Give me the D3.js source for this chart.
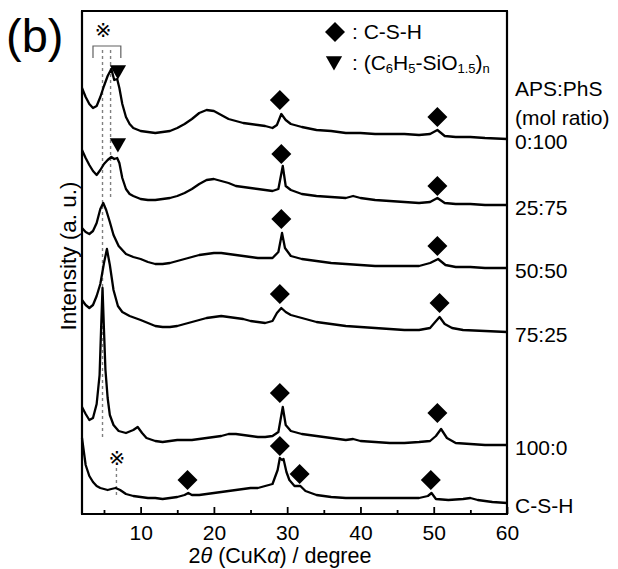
<!DOCTYPE html>
<html>
<head>
<meta charset="utf-8">
<script src="https://cdn.jsdelivr.net/npm/d3@7"></script>
<style>
  body { margin: 0; background: #fff; }
  svg text { font-family: "Liberation Sans", Arial, sans-serif; fill: #000; }
</style>
</head>
<body>
<div id="chart"></div>
<script>
// 2theta (degree) vs. intensity (a.u., traces already stacked)
const aps0_100 = [[2,426],[2.5,417],[3,410],[3.5,406],[4,408],[4.5,417],[5,428],[5.5,438],[6,445],[6.4,434],[6.8,435],[7.1,426],[7.5,410],[8,397],[8.5,390],[9,386],[10,383],[11,382],[12,381],[13,382],[14,383],[15,386],[16,390],[17,395],[18,401],[19,404],[20,403],[21,399],[22,395],[23,393],[24,391],[25,390],[26,389],[27,388],[28,386],[28.6,389],[29.2,400],[29.8,394],[30.5,390],[32,387],[34,384],[36,383],[38,381],[40,381],[42,380],[44,380],[46,380],[48,379],[49.5,380],[50.5,384],[51.5,378],[53,377],[55,377],[57,376],[60,375]];
const aps25_75 = [[2,364],[2.5,356],[3,349],[3.5,343],[4,339],[4.5,344],[5,350],[5.5,354],[6,357],[6.4,355],[6.8,356],[7.1,351],[7.5,336],[8,325],[8.5,320],[9,318],[10,315],[11,314],[12,314],[13,315],[14,316],[15,318],[16,321],[17,325],[18,330],[19,334],[20,335],[21,333],[22,331],[23,328],[24,327],[25,326],[26,325],[27,324],[28,323],[28.8,325],[29.4,348],[29.8,328],[30.5,324],[32,320],[34,318],[36,317],[38,316],[39,318],[40,316],[42,314],[44,313],[46,312],[48,311],[49.5,312],[50.5,316],[51.5,311],[53,310],[55,310],[57,309],[60,309]];
const aps50_50 = [[2,286],[2.5,282],[3,280],[3.5,283],[4,291],[4.5,305],[4.9,311],[5.3,304],[5.8,292],[6.3,279],[7,268],[8,260],[9,257],[10,255],[11,252],[12,250],[13,250],[14,251],[15,253],[16,255],[17,257],[18,259],[19,260],[20,261],[21,261],[22,260],[23,259],[24,258],[25,257],[26,256],[27,256],[28,256],[28.8,262],[29.3,281],[29.7,266],[30.5,258],[32,255],[34,253],[36,251],[38,250],[40,249],[42,248],[44,248],[46,248],[48,248],[49.5,251],[50.6,255],[51.6,249],[53,247],[55,247],[57,246],[60,246]];
const aps75_25 = [[2,214],[2.5,209],[3,206],[3.5,209],[4,218],[4.5,230],[5,251],[5.4,265],[5.8,249],[6.3,224],[6.9,208],[7.5,202],[8.5,198],[10,194],[11,191],[12,188],[13,187],[14,187],[15,188],[16,190],[17,192],[18,194],[19,196],[20,197],[21,198],[22,197],[23,196],[24,195],[25,193],[26,192],[27,191],[28,193],[28.6,201],[29.2,206],[29.8,202],[30.5,199],[32,196],[34,192],[36,190],[38,188],[40,187],[42,186],[44,185],[46,184],[48,184],[49.5,186],[50.2,192],[50.8,197],[51.5,190],[52.5,186],[54,184],[57,183],[60,182]];
const aps100_0 = [[2,107],[2.5,100],[3,94],[3.5,96],[4,110],[4.4,139],[4.6,184],[4.8,226],[5,184],[5.2,144],[5.5,116],[5.8,99],[6.3,89],[7,83],[8,81],[9,84],[9.6,87],[10.2,81],[10.8,76],[12,73],[13,72],[14,73],[15,74],[16,74],[17,74],[18,75],[19,76],[20,77],[21,78],[22,80],[23,80],[24,79],[25,78],[26,77],[27,77],[28,78],[28.8,82],[29.4,107],[29.8,89],[30.5,83],[32,80],[34,78],[36,76],[38,74],[39,75],[40,73],[42,72],[44,71],[46,71],[48,72],[49.5,73],[50.3,78],[51,85],[51.8,76],[53,71],[55,70],[57,69],[60,69]];
const cshOnly = [[2,76],[2.5,49],[3,38],[3.5,32],[4,28],[4.5,26],[5,25],[5.5,24],[6,25],[6.6,26],[7.2,24],[8,20],[9,18],[10,17],[11,16],[12,16],[13,15],[14,16],[15,17],[16,19],[16.5,21],[17,19],[18,19],[19,20],[20,21],[21,22],[22,23],[23,24],[24,25],[25,26],[26,26],[27,28],[28,30],[28.7,44],[29,56],[29.3,54],[29.5,55],[29.9,42],[30.3,34],[31,28],[31.8,28],[32.5,23],[34,19],[36,17],[38,16],[40,16],[42,16],[44,16],[46,16],[48,16],[49.2,18],[49.7,21],[50.3,15],[52,14],[54,15],[55,16],[56,14],[58,12],[60,11]];

const traces = [aps0_100, aps25_75, aps50_50, aps75_25, aps100_0, cshOnly];
const traceLabels = ["0:100", "25:75", "50:50", "75:25", "100:0", "C-S-H"];

// peak markers [2theta, intensity]
const cshPeaks = [[29.0,414],[50.5,397],[29.2,360],[50.5,328],[29.2,295],[50.5,268],[29.0,220],[50.8,211],[29.0,121],[50.5,101],[16.4,34],[29.0,68],[31.7,40],[49.6,34]];
const phsPeaks = [[6.9,444],[6.9,371]];

const xTicks = [10, 20, 30, 40, 50, 60];
const xMinorTicks = [5, 15, 25, 35, 45, 55];

const W = 618, H = 569;
const margin = {left: 82, top: 11, right: 111, bottom: 55};

const svg = d3.select('#chart').append('svg')
    .attr('width', W)
    .attr('height', H);

let x = d3.scaleLinear().domain([2, 60]).range([margin.left, W - margin.right]);
let y = d3.scaleLinear().domain([0, 503]).range([H - margin.bottom, margin.top]);

// reference lines for the low-angle peaks
let refLines = [
    {t: 4.8, y0: 464, y1: 74},
    {t: 5.9, y0: 464, y1: 317},
    {t: 6.7, y0: 46, y1: 16}
];
svg.selectAll('.ref')
    .data(refLines)
    .enter().append('line')
    .attr('x1', d => x(d.t)).attr('x2', d => x(d.t))
    .attr('y1', d => y(d.y0)).attr('y2', d => y(d.y1))
    .attr('stroke', '#808080')
    .attr('stroke-width', 1.4)
    .attr('stroke-dasharray', '3,3');

// bracket above the dashed lines
svg.append('path')
    .attr('d', `M${x(3.5)},${y(456)}V${y(468)}H${x(7.3)}V${y(456)}`)
    .attr('fill', 'none')
    .attr('stroke', '#606060')
    .attr('stroke-width', 1.2);

let mark = '\u203B\uFE0E';
svg.append('text')
    .attr('x', x(4.9)).attr('y', y(468) - 9)
    .attr('text-anchor', 'middle')
    .style('font-family', '"DejaVu Sans", "Noto Sans CJK JP", sans-serif')
    .style('font-size', '20px')
    .text(mark);

svg.append('text')
    .attr('x', x(6.75)).attr('y', y(56) + 7)
    .attr('text-anchor', 'middle')
    .style('font-family', '"DejaVu Sans", "Noto Sans CJK JP", sans-serif')
    .style('font-size', '20px')
    .text(mark);

// traces
let line = d3.line().x(d => x(d[0])).y(d => y(d[1]));
svg.selectAll('.trace')
    .data(traces)
    .enter().append('path')
    .attr('class', 'trace')
    .attr('d', line)
    .attr('fill', 'none')
    .attr('stroke', '#000')
    .attr('stroke-width', 2.3)
    .attr('stroke-linejoin', 'round');

// markers
let diamond = d3.symbol().type(d3.symbolSquare).size(200);
let triangle = d3.symbol().type(d3.symbolTriangle).size(115);

svg.selectAll('.diamond')
    .data(cshPeaks)
    .enter().append('path')
    .attr('d', diamond)
    .attr('fill', '#000')
    .attr('transform', d => `translate(${x(d[0])},${y(d[1])}) rotate(45)`);

svg.selectAll('.tri')
    .data(phsPeaks)
    .enter().append('path')
    .attr('d', triangle)
    .attr('fill', '#000')
    .attr('transform', d => `translate(${x(d[0])},${y(d[1])}) rotate(180)`);

// frame, four sides
let [fx0, fx1] = x.range();
let [fy0, fy1] = y.range();
let sides = [
    [fx0 - 1, fy1, fx1 + 1, fy1],
    [fx0 - 1, fy0, fx1 + 1, fy0],
    [fx0, fy1, fx0, fy0],
    [fx1, fy1, fx1, fy0]
];
svg.selectAll('.side')
    .data(sides)
    .enter().append('line')
    .attr('class', 'side')
    .attr('x1', d => d[0]).attr('y1', d => d[1])
    .attr('x2', d => d[2]).attr('y2', d => d[3])
    .attr('stroke', '#000')
    .attr('stroke-width', 2.2);

// x axis, ticks pointing in
let xAxis = svg.append('g')
    .attr('transform', `translate(0,${fy0})`)
    .call(d3.axisBottom(x).tickValues(xTicks).tickSize(-7).tickPadding(11));
xAxis.select('.domain').remove();
xAxis.selectAll('line').attr('stroke', '#000').attr('stroke-width', 1.8);
xAxis.selectAll('text').style('font-size', '21px').style('font-family', '"Liberation Sans", Arial, sans-serif');

let xMinor = svg.append('g')
    .attr('transform', `translate(0,${fy0})`)
    .call(d3.axisBottom(x).tickValues(xMinorTicks).tickSize(-4).tickFormat(''));
xMinor.select('.domain').remove();
xMinor.selectAll('line').attr('stroke', '#000').attr('stroke-width', 1.8);

// axis titles
let xTitle = svg.append('text')
    .attr('x', 280).attr('y', 563)
    .attr('text-anchor', 'middle')
    .style('font-size', '21.5px');
xTitle.append('tspan').text('2');
xTitle.append('tspan').style('font-style', 'italic').text('θ');
xTitle.append('tspan').text(' (CuK');
xTitle.append('tspan').style('font-style', 'italic').text('α');
xTitle.append('tspan').text(') / degree');

svg.append('text')
    .attr('transform', 'translate(76,256) rotate(-90)')
    .attr('text-anchor', 'middle')
    .style('font-size', '22.5px')
    .text('Intensity (a. u.)');

svg.append('text')
    .attr('x', 6).attr('y', 52)
    .style('font-size', '47px')
    .text('(b)');

// sample labels on the right
svg.selectAll('.lab')
    .data(traces)
    .enter().append('text')
    .attr('x', 515)
    .attr('y', d => y(d[d.length - 1][1]) + 9.5)
    .style('font-size', '21px')
    .text((d, i) => traceLabels[i]);

svg.append('text').attr('x', 515).attr('y', 96).style('font-size', '21px').text('APS:PhS');
svg.append('text').attr('x', 515).attr('y', 125).style('font-size', '21px').text('(mol ratio)');

// legend
svg.append('path')
    .attr('d', diamond)
    .attr('fill', '#000')
    .attr('transform', 'translate(335,32) rotate(45)');
svg.append('text').attr('x', 352).attr('y', 39).style('font-size', '21px').text(': C-S-H');

svg.append('path')
    .attr('d', triangle)
    .attr('fill', '#000')
    .attr('transform', 'translate(334,61) rotate(180)');
let leg = svg.append('text').attr('x', 352).attr('y', 70).style('font-size', '21px');
leg.append('tspan').text(': (C');
leg.append('tspan').attr('dy', 3).style('font-size', '13px').text('6');
leg.append('tspan').attr('dy', -3).text('H');
leg.append('tspan').attr('dy', 3).style('font-size', '13px').text('5');
leg.append('tspan').attr('dy', -3).text('-SiO');
leg.append('tspan').attr('dy', 3).style('font-size', '13px').text('1.5');
leg.append('tspan').attr('dy', -3).text(')');
leg.append('tspan').attr('dy', 3).style('font-size', '13px').text('n');
</script>
</body>
</html>
